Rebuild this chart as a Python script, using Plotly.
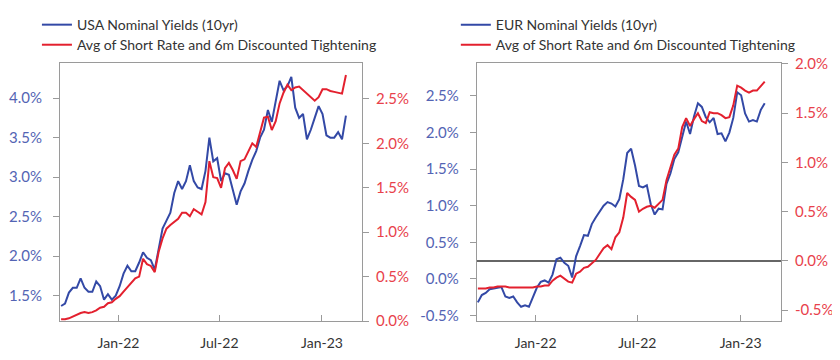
import pandas as pd
import plotly.graph_objects as go

# ---- data (weekly observations) ----
dates = pd.date_range("2021-09-20", periods=74, freq="7D")

usa_nominal_10y = [1.37, 1.40, 1.54, 1.60, 1.60, 1.72, 1.60, 1.55, 1.55, 1.68,
                   1.62, 1.45, 1.52, 1.45, 1.50, 1.62, 1.78, 1.88, 1.81, 1.81,
                   1.92, 2.05, 1.98, 1.95, 1.83, 2.10, 2.35, 2.45, 2.55, 2.80,
                   2.95, 2.85, 2.95, 3.15, 2.95, 2.87, 2.85, 3.08, 3.50, 3.20,
                   3.24, 2.95, 3.05, 3.03, 2.85, 2.65, 2.82, 2.92, 3.08, 3.22,
                   3.33, 3.50, 3.60, 3.85, 3.70, 3.98, 4.22, 4.10, 4.15, 4.27,
                   3.88, 3.75, 3.80, 3.48, 3.60, 3.75, 3.90, 3.80, 3.53, 3.50,
                   3.50, 3.57, 3.48, 3.78]

usa_short_rate_tightening = [0.02, 0.02, 0.03, 0.05, 0.07, 0.09, 0.10, 0.09, 0.10, 0.12,
                             0.15, 0.16, 0.20, 0.21, 0.25, 0.28, 0.33, 0.38, 0.42, 0.48,
                             0.50, 0.70, 0.64, 0.62, 0.55, 0.78, 0.93, 1.04, 1.08, 1.11,
                             1.15, 1.22, 1.22, 1.18, 1.26, 1.23, 1.20, 1.34, 1.80, 1.62,
                             1.61, 1.50, 1.72, 1.78, 1.70, 1.60, 1.80, 1.82, 1.92, 2.00,
                             1.96, 2.12, 2.29, 2.30, 2.15, 2.25, 2.45, 2.57, 2.66, 2.60,
                             2.63, 2.64, 2.60, 2.56, 2.51, 2.48, 2.52, 2.61, 2.61, 2.59,
                             2.58, 2.57, 2.56, 2.77]

eur_nominal_10y = [-0.32, -0.22, -0.19, -0.14, -0.13, -0.12, -0.11, -0.24, -0.26, -0.24,
                   -0.32, -0.38, -0.36, -0.38, -0.24, -0.12, -0.04, -0.02, -0.05, 0.06,
                   0.27, 0.29, 0.22, 0.18, 0.02, 0.31, 0.45, 0.60, 0.59, 0.75,
                   0.84, 0.92, 1.00, 1.05, 1.03, 0.99, 1.09, 1.36, 1.72, 1.78,
                   1.55, 1.27, 1.25, 1.28, 1.02, 0.88, 0.96, 0.95, 1.30, 1.44,
                   1.64, 1.73, 1.93, 2.15, 1.98, 2.22, 2.40, 2.35, 2.21, 2.14,
                   2.20, 1.98, 1.99, 1.88, 2.00, 2.20, 2.55, 2.51, 2.26, 2.15,
                   2.17, 2.15, 2.31, 2.40]

eur_short_rate_tightening = [-0.28, -0.28, -0.28, -0.27, -0.27, -0.26, -0.26, -0.26, -0.27, -0.27,
                             -0.27, -0.27, -0.27, -0.27, -0.27, -0.26, -0.26, -0.25, -0.25, -0.20,
                             -0.17, -0.15, -0.18, -0.21, -0.22, -0.13, -0.11, -0.07, -0.06, -0.02,
                             0.01, 0.07, 0.13, 0.16, 0.12, 0.24, 0.29, 0.44, 0.69, 0.65,
                             0.62, 0.50, 0.53, 0.55, 0.56, 0.54, 0.58, 0.62, 0.82, 0.95,
                             1.08, 1.14, 1.36, 1.45, 1.37, 1.44, 1.50, 1.42, 1.40, 1.51,
                             1.50, 1.50, 1.48, 1.45, 1.46, 1.58, 1.78, 1.76, 1.73, 1.71,
                             1.73, 1.73, 1.77, 1.82]

x_tick_vals = ["2022-01-01", "2022-07-01", "2023-01-01"]
x_tick_text = ["Jan-22", "Jul-22", "Jan-23"]
usa_left_ticks = [1.5, 2.0, 2.5, 3.0, 3.5, 4.0]
usa_right_ticks = [0.0, 0.5, 1.0, 1.5, 2.0, 2.5]
eur_left_ticks = [-0.5, 0.0, 0.5, 1.0, 1.5, 2.0, 2.5]
eur_right_ticks = [-0.5, 0.0, 0.5, 1.0, 1.5, 2.0]

# ---- styling ----
BLUE = "#3349a6"
RED = "#e3202e"
BLUE_TXT = "#5364b4"
RED_TXT = "#e8414b"
AXIS = "#9a9a9a"
FONT = "Lato"

fig = go.Figure()
fig.add_trace(go.Scatter(x=dates, y=usa_nominal_10y, name="USA Nominal Yields (10yr)",
                         line=dict(color=BLUE, width=2), xaxis="x", yaxis="y", legend="legend"))
fig.add_trace(go.Scatter(x=dates, y=usa_short_rate_tightening,
                         name="Avg of Short Rate and 6m Discounted Tightening",
                         line=dict(color=RED, width=2), xaxis="x", yaxis="y2", legend="legend2"))
fig.add_trace(go.Scatter(x=dates, y=eur_nominal_10y, name="EUR Nominal Yields (10yr)",
                         line=dict(color=BLUE, width=2), xaxis="x2", yaxis="y3", legend="legend3"))
fig.add_trace(go.Scatter(x=dates, y=eur_short_rate_tightening,
                         name="Avg of Short Rate and 6m Discounted Tightening",
                         line=dict(color=RED, width=2), xaxis="x2", yaxis="y4", legend="legend4"))

xcommon = dict(type="date", range=["2021-09-18", "2023-03-14"], tickvals=x_tick_vals,
               ticktext=x_tick_text, ticks="inside", ticklen=6, tickcolor=AXIS,
               showline=True, linecolor=AXIS, linewidth=1, mirror=True, showgrid=False,
               zeroline=False, ticklabelstandoff=9,
               tickfont=dict(size=14, color="#333333", family=FONT))

def yax(rng, tv, color, side, **kw):
    d = dict(range=rng, tickvals=tv, ticktext=[f"{v:.1f}%" for v in tv], side=side,
             ticks="outside", ticklen=6, tickcolor=AXIS, showline=True, linecolor=AXIS,
             linewidth=1, showgrid=False, zeroline=False,
             ticklabelstandoff=8 if side == "left" else 4,
             tickfont=dict(size=15, color=color, family=FONT))
    d.update(kw)
    return d

def leg(x, y):
    return dict(x=x, y=y, xanchor="left", yanchor="top", yref="container",
                bgcolor="rgba(0,0,0,0)", font=dict(size=14, color="#333333", family=FONT))

# the page body adds an 8px offset, so the figure is 8px smaller than the window
fig.update_layout(
    width=832, height=352,
    margin=dict(l=52, r=59, t=55, b=39, autoexpand=False),
    paper_bgcolor="white", plot_bgcolor="white",
    font=dict(family=FONT, size=14, color="#333333"),
    xaxis=dict(domain=[0, 0.419], anchor="y", **xcommon),
    xaxis2=dict(domain=[0.578, 1.0], anchor="y3", **xcommon),
    yaxis=yax([1.18, 4.445], usa_left_ticks, BLUE_TXT, "left", anchor="x"),
    yaxis2=yax([0, 2.905], usa_right_ticks, RED_TXT, "right", anchor="x", overlaying="y"),
    yaxis3=yax([-0.574, 2.95], eur_left_ticks, BLUE_TXT, "left", anchor="x2"),
    yaxis4=yax([-0.61, 2.01], eur_right_ticks, RED_TXT, "right", anchor="x2", overlaying="y3",
               zeroline=True, zerolinecolor="#666666", zerolinewidth=2),
    legend=leg(-0.032, 0.997),
    legend2=leg(-0.032, 0.94),
    legend3=leg(0.549, 0.997),
    legend4=leg(0.549, 0.94),
    showlegend=True,
)

fig.write_html("out.html")
